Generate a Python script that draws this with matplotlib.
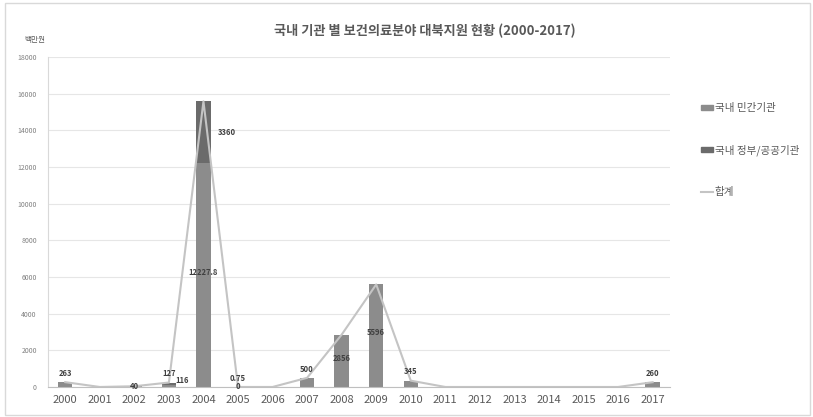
import matplotlib
matplotlib.use("Agg")
import matplotlib.pyplot as plt
from matplotlib.patches import Rectangle
from matplotlib.lines import Line2D

plt.rcParams['font.family'] = ['Noto Sans CJK KR', 'DejaVu Sans']

years = [str(y) for y in range(2000, 2018)]
private = [263, 0, 40, 127, 12227.8, 0.75, 0, 500, 2856, 5596, 345, 0, 0, 0, 0, 0, 0, 260]
gov = [0, 0, 0, 116, 3360, 0, 0, 0, 0, 0, 0, 0, 0, 0, 0, 0, 0, 0]
total = [p + g for p, g in zip(private, gov)]
private_labels = ['263', None, '40', '127', '12227.8', '0.75', None, '500', '2856', '5596', '345',
                  None, None, None, None, None, None, '260']
gov_labels = [None, None, None, '116', '3360', '0', None, None, None, None, None,
              None, None, None, None, None, None, None]
yticks = [0, 2000, 4000, 6000, 8000, 10000, 12000, 14000, 16000, 18000]

c_priv = '#8c8c8c'
c_gov = '#6b6b6b'
c_line = '#c4c4c4'

fig = plt.figure(figsize=(8.13, 4.17), dpi=100)
ax = fig.add_axes([0.059, 0.072, 0.765, 0.791])
x = list(range(len(years)))
ax.bar(x, private, width=0.42, color=c_priv, zorder=2, label='국내 민간기관')
ax.bar(x, gov, width=0.42, bottom=private, color=c_gov, zorder=2, label='국내 정부/공공기관')
ax.plot(x, total, color=c_line, lw=1.5, zorder=3, label='합계')

ax.set_xlim(-0.5, len(years) - 0.5)
ax.set_ylim(0, 18000)
ax.set_yticks(yticks)
ax.set_yticklabels([str(v) for v in yticks], fontsize=5, color='#808080')
ax.set_xticks(x)
ax.set_xticklabels(years, fontsize=8, color='#595959')
ax.tick_params(axis='both', length=0)
ax.tick_params(axis='y', pad=8)
ax.tick_params(axis='x', pad=6)
ax.grid(axis='y', color='#e6e6e6', lw=0.8, zorder=0)
for s in ['top', 'right']:
    ax.spines[s].set_visible(False)
ax.spines['left'].set_color('#d9d9d9')
ax.spines['bottom'].set_color('#bfbfbf')

lab_kw = dict(fontsize=5.5, fontweight='bold', color='#404040', zorder=5)
# data labels
for i, lab in enumerate(private_labels):
    if lab is None:
        continue
    p = private[i]
    if p > 1000:
        ax.annotate(lab, (i, p / 2), xytext=(0, 2), textcoords='offset points',
                    ha='center', va='center', **lab_kw)
    elif i == 2:
        ax.annotate(lab, (i, 0), ha='center', va='center', **lab_kw)
    else:
        ax.annotate(lab, (i, total[i]), xytext=(0, 3), textcoords='offset points',
                    ha='center', va='bottom', **lab_kw)
for i, lab in enumerate(gov_labels):
    if lab is None:
        continue
    g = gov[i]
    if g > 1000:
        ax.annotate(lab, (i, private[i] + g / 2), xytext=(10, 0), textcoords='offset points',
                    ha='left', va='center', **lab_kw)
    elif g > 0:
        ax.annotate(lab, (i, private[i] + g / 2), xytext=(5, 2), textcoords='offset points',
                    ha='left', va='center', **lab_kw)
    else:
        ax.annotate(lab, (i, 0), ha='center', va='center', **lab_kw)

fig.text(0.522, 0.925, '국내 기관 별 보건의료분야 대북지원 현황 (2000-2017)', ha='center', va='center',
         fontsize=9.5, fontweight='bold', color='#595959')
fig.text(0.030, 0.905, '백만원', ha='left', va='center', fontsize=5.5, color='#595959')

handles = [Rectangle((0, 0), 1, 1, color=c_priv), Rectangle((0, 0), 1, 1, color=c_gov),
           Line2D([], [], color=c_line, lw=1.5)]
labels = ['국내 민간기관', '국내 정부/공공기관', '합계']
leg = fig.legend(handles, labels, loc='upper left', bbox_to_anchor=(0.850, 0.775), frameon=False,
                 fontsize=7.6, labelspacing=2.95, handlelength=1.2, handleheight=0.4,
                 handletextpad=0.15)
for t in leg.get_texts():
    t.set_color('#595959')

fig.patches.append(Rectangle((0.006, 0.004), 0.99, 0.99, transform=fig.transFigure,
                             fill=False, edgecolor='#d9d9d9', lw=1))
fig.savefig('out.png', dpi=100)
